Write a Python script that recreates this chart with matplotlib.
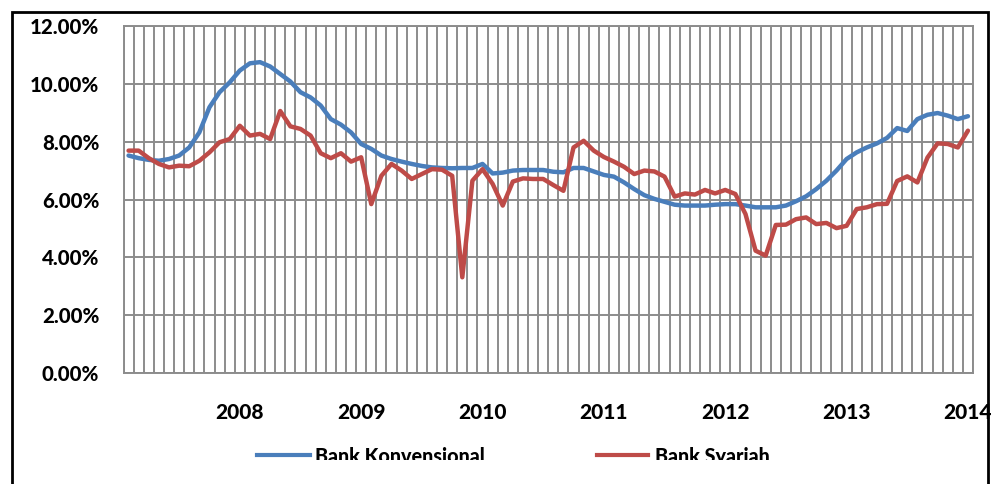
import numpy as np
import matplotlib
matplotlib.use("Agg")
import matplotlib.pyplot as plt
from matplotlib.patches import Rectangle
from matplotlib.lines import Line2D
import pandas as pd

# ---- data (percent) ----
months = pd.date_range("2007-02-01", periods=84, freq="MS")
bank_konvensional = [
    7.52, 7.43, 7.37, 7.34, 7.40, 7.52, 7.80, 8.32, 9.19, 9.71, 10.05, 10.46, 10.71, 10.75, 10.60, 10.34, 10.08,
    9.71, 9.53, 9.25, 8.78, 8.59, 8.32, 7.92, 7.75, 7.52, 7.40, 7.31, 7.23, 7.16, 7.11, 7.09, 7.08,
    7.09, 7.09, 7.23, 6.90, 6.93, 7.00, 7.02, 7.02, 7.02, 6.96, 6.94, 7.09, 7.09, 6.97, 6.85,
    6.79, 6.59, 6.36, 6.15, 6.02, 5.92, 5.82, 5.79, 5.79, 5.79, 5.82, 5.84, 5.84, 5.79, 5.73, 5.73,
    5.73, 5.79, 5.94, 6.11, 6.36, 6.65, 7.00, 7.40, 7.63, 7.80, 7.94, 8.13, 8.47, 8.37, 8.78, 8.93, 8.99, 8.90, 8.78, 8.88,
]
bank_syariah = [
    7.69, 7.69, 7.43, 7.23, 7.11, 7.17, 7.15, 7.34, 7.63, 7.98, 8.09, 8.55, 8.21, 8.27, 8.09, 9.06, 8.53,
    8.44, 8.21, 7.60, 7.43, 7.60, 7.31, 7.46, 5.84, 6.82, 7.23, 7.00, 6.71, 6.88, 7.05, 7.03, 6.82,
    3.31, 6.65, 7.05, 6.54, 5.79, 6.62, 6.73, 6.71, 6.71, 6.50, 6.30, 7.80, 8.03, 7.69, 7.47,
    7.31, 7.13, 6.88, 7.00, 6.97, 6.79, 6.10, 6.21, 6.17, 6.33, 6.21, 6.33, 6.19, 5.50, 4.23, 4.06,
    5.12, 5.13, 5.32, 5.38, 5.15, 5.19, 5.01, 5.09, 5.67, 5.73, 5.84, 5.85, 6.64, 6.80, 6.59, 7.45, 7.94, 7.92, 7.80, 8.38,
]
series_names = ["Bank Konvensional", "Bank Syariah"]
y_ticks = [0, 2, 4, 6, 8, 10, 12]
y_tick_labels = ["0.00%", "2.00%", "4.00%", "6.00%", "8.00%", "10.00%", "12.00%"]

BLUE = "#4A7EBB"
RED = "#BE4B48"
GRID = "#8C8C8C"
FONT = "Lato"

W, H = 991, 484
fig = plt.figure(figsize=(W / 100, H / 100), dpi=100)
ax = fig.add_axes([123.5 / W, 1 - 373 / H, (973 - 123.5) / W, (373 - 26) / H])

x = np.arange(len(months))
ax.plot(x, bank_konvensional, color=BLUE, lw=3.2, solid_joinstyle="round", solid_capstyle="round", zorder=3)
ax.plot(x, bank_syariah, color=RED, lw=3.2, solid_joinstyle="round", solid_capstyle="round", zorder=3)

ax.set_xlim(-0.5, len(months) - 0.5)
ax.set_ylim(0, 12)

# gridlines at category boundaries
ax.set_xticks(np.arange(-0.5, len(months), 1), minor=True)
year_idx = [i for i, m in enumerate(months) if m.month == 1]
ax.set_xticks(year_idx)
ax.set_xticklabels([str(months[i].year) for i in year_idx], fontfamily=FONT, fontweight="black", fontsize=15)
ax.set_yticks(y_ticks)
ax.set_yticklabels(y_tick_labels, fontfamily=FONT, fontweight="black", fontsize=14.7)
ax.tick_params(axis="both", which="both", length=0)
ax.tick_params(axis="x", pad=21.5)
ax.tick_params(axis="y", pad=17.5)
ax.grid(which="minor", axis="x", color=GRID, lw=1.4, zorder=1)
ax.grid(which="major", axis="y", color=GRID, lw=1.4, zorder=1)
ax.set_axisbelow(True)
for s in ax.spines.values():
    s.set_color(GRID)
    s.set_linewidth(1.4)

# legend (clipped at bottom like the reference)
clip = Rectangle((0, 1 - 460 / H), 1, 460 / H, transform=fig.transFigure, visible=False)
fig.add_artist(clip)
ly = 1 - 455 / H
for (x0, x1, tx), col, name in zip([(257, 310, 315), (597, 648, 655)], [BLUE, RED], series_names):
    fig.add_artist(Line2D([x0 / W, x1 / W], [ly, ly], transform=fig.transFigure, color=col, lw=3.0))
    t = fig.text(tx / W, 1 - 447 / H, name, fontfamily=FONT, fontweight="black", fontsize=14.2,
                 ha="left", va="top")
    t.set_clip_path(clip)
    t.set_clip_on(True)

# outer chart border
border = Rectangle((11.5 / W, -0.2), (987.5 - 11.5) / W, 1.2 - 12 / H, transform=fig.transFigure,
                   fill=False, edgecolor="black", lw=2.0, zorder=10)
fig.add_artist(border)

fig.savefig("out.png", dpi=100)
